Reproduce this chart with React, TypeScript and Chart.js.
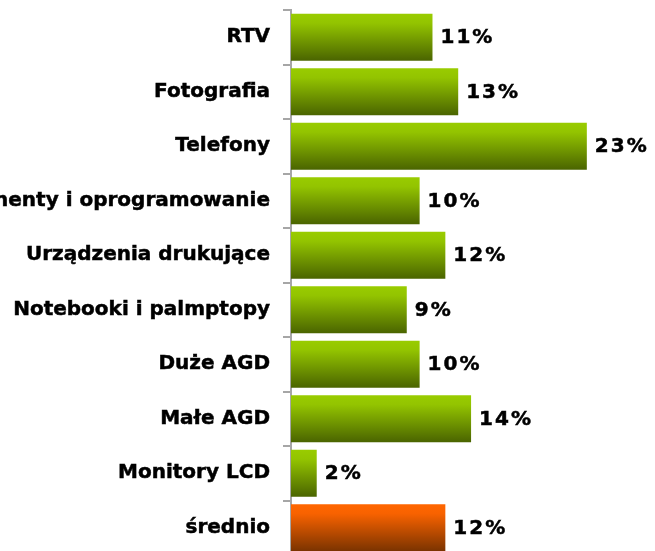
import React, { useEffect, useRef } from "react";
import { Chart, registerables } from "chart.js";

Chart.register(...registerables);

const categories = [
  "RTV",
  "Fotografia",
  "Telefony",
  "Komponenty i oprogramowanie",
  "Urządzenia drukujące",
  "Notebooki i palmptopy",
  "Duże AGD",
  "Małe AGD",
  "Monitory LCD",
  "średnio",
];
const values = [11, 13, 23, 10, 12, 9, 10, 14, 2, 12];
const highlightIndex = 9;

const FONT = "'DejaVu Sans', Verdana, sans-serif";

const valueLabels = {
  id: "valueLabels",
  afterDatasetsDraw(chart: any) {
    const ctx = chart.ctx;
    const meta = chart.getDatasetMeta(0);
    ctx.save();
    ctx.font = `bold 20px ${FONT}`;
    (ctx as any).letterSpacing = "2px";
    ctx.fillStyle = "#000";
    ctx.strokeStyle = "#000";
    ctx.lineWidth = 0.5;
    ctx.textAlign = "left";
    ctx.textBaseline = "middle";
    meta.data.forEach((el: any, i: number) => {
      const t = values[i] + "%";
      ctx.fillText(t, el.x + 8, el.y + 1);
      ctx.strokeText(t, el.x + 8, el.y + 1);
    });
    ctx.restore();
  },
};

export default function App() {
  const ref = useRef<HTMLCanvasElement | null>(null);
  useEffect(() => {
    if (!ref.current) return;
    const barPct = 0.865;
    const chart = new Chart(ref.current, {
      type: "bar",
      data: {
        labels: categories,
        datasets: [
          {
            data: values,
            categoryPercentage: 1,
            barPercentage: barPct,
            borderWidth: 0,
            backgroundColor: (c: any) => {
              const ch = c.chart;
              const y = ch.scales && ch.scales.y;
              const isHi = c.dataIndex === highlightIndex;
              if (!ch.chartArea || !y || c.dataIndex === undefined) {
                return isHi ? "#ff6600" : "#99cc00";
              }
              const band = y.getPixelForValue(1) - y.getPixelForValue(0);
              const center = y.getPixelForValue(c.dataIndex);
              const half = (band * barPct) / 2;
              const g = ch.ctx.createLinearGradient(0, center - half, 0, center + half);
              if (isHi) {
                g.addColorStop(0, "#ff6600");
                g.addColorStop(0.2, "#f86200");
                g.addColorStop(1, "#7a3300");
              } else {
                g.addColorStop(0, "#99cc00");
                g.addColorStop(0.2, "#93c400");
                g.addColorStop(1, "#4a6400");
              }
              return g;
            },
          },
        ],
      },
      options: {
        indexAxis: "y",
        animation: false,
        responsive: false,
        maintainAspectRatio: false,
        layout: { padding: { top: 10, bottom: 0, left: 0, right: 0 } },
        plugins: {
          legend: { display: false },
          tooltip: { enabled: false },
        },
        scales: {
          x: {
            display: false,
            min: 0,
            max: 28.3,
          },
          y: {
            offset: true,
            afterFit: (scale: any) => {
              scale.width = 291;
              scale.paddingTop = 0;
              scale.paddingBottom = 0;
            },
            grid: {
              offset: true,
              drawOnChartArea: false,
              drawTicks: true,
              tickLength: 8,
              color: "#a6a6a6",
              lineWidth: 2,
            },
            border: { display: true, color: "#a6a6a6", width: 2 },
            ticks: {
              padding: 13,
              color: "#000",
              textStrokeColor: "#000",
              textStrokeWidth: 0.5,
              font: { family: FONT, size: 20, weight: "bold" },
              autoSkip: false,
            },
          },
        },
      },
      plugins: [valueLabels],
    } as any);
    return () => chart.destroy();
  }, []);
  return (
    <div
      style={{
        position: "fixed",
        left: 0,
        top: 0,
        width: 655,
        height: 551,
        overflow: "hidden",
        background: "#fff",
      }}
    >
      <canvas ref={ref} width={655} height={555} style={{ display: "block" }} />
    </div>
  );
}
